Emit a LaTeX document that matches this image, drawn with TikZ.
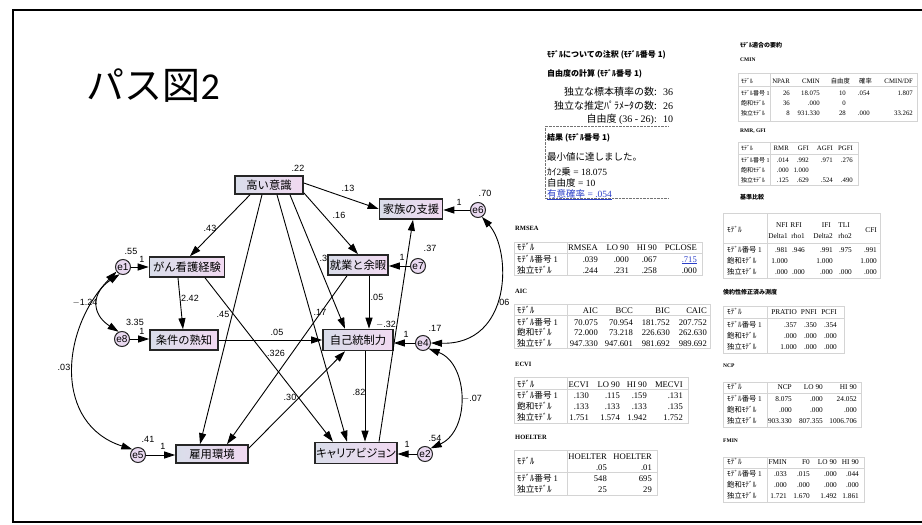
\documentclass[tikz,border=0pt]{standalone}
\usepackage{fontspec}
\setmainfont{Liberation Serif}
\newfontfamily\jp{Noto Sans CJK JP}
\newfontfamily\jpp[RawFeature=+palt]{Noto Sans CJK JP}
\newfontfamily\arl{Liberation Sans}
\newfontfamily\carl{Carlito}
\usetikzlibrary{arrows.meta,calc}
\newcommand\fsz[1]{\fontsize{#1}{#1}\selectfont}
\definecolor{boxl}{HTML}{D9DDEA}
\definecolor{boxr}{HTML}{F1D9F1}
\definecolor{errf}{HTML}{E9D9F0}
\definecolor{lnk}{HTML}{2B3FC8}
\definecolor{tbline}{HTML}{D4D4D4}
\newcommand\trow[4]{\foreach \cx/\ct [count=\ci] in {#4}{\node[tn=#3] (#1-\ci) at (\cx,#2) {\ct};}}
\begin{document}
\begin{tikzpicture}[x=1pt,y=-1pt,
  box/.style={draw=black!85,line width=1.6pt,left color=boxl,right color=boxr,inner sep=1pt,font=\jp\fsz{11.3}},
  err/.style={circle,draw=black!85,line width=1pt,fill=errf,minimum size=15pt,inner sep=0pt,font=\arl\fsz{10}},
  lb/.style={inner sep=0pt,font=\arl\fsz{9}},
  arr/.style={-{Triangle[length=11pt,width=7pt]},line width=0.9pt},
  cov/.style={{Triangle[length=11pt,width=7pt]}-{Triangle[length=11pt,width=7pt]},line width=0.9pt},
  tn/.style={anchor=base east,inner sep=0pt,font=\fsz{#1}},
  tl/.style={anchor=base west,inner sep=0pt,font=\jp\fsz{#1}},
  th/.style={anchor=base west,inner sep=0pt,font=\bfseries\fsz{#1}},
  tj/.style={anchor=base west,inner sep=0pt,font=\jp\bfseries\fsz{#1}},
  tb/.style={draw=tbline,line width=0.7pt},
]
\useasboundingbox (0,0) rectangle (922,525);
\fill[white] (0,0) rectangle (922,525);
\draw[line width=1.8pt] (930,10) -- (13,10) -- (13,522) -- (930,522);

% title
\node[anchor=west,font=\jp\fsz{38}] (title) at (83,86) {パス図{\carl 2}};

% label partly hidden by a box
\node[lb] (lab0) at (326,258) {.37};

% ---------- path diagram ----------
\node[box,minimum width=68pt,minimum height=18pt] (hi) at (269,185) {高い意識};
\node[box,minimum width=63pt,minimum height=20pt] (fam) at (411,209) {家族の支援};
\node[box,minimum width=60pt,minimum height=20pt] (job) at (358,265) {就業と余暇};
\node[box,minimum width=75pt,minimum height=20pt] (gan) at (187,267) {がん看護経験};
\node[box,minimum width=68pt,minimum height=20pt] (cond) at (184,340) {条件の熟知};
\node[box,minimum width=70pt,minimum height=21pt] (self) at (358,340) {自己統制力};
\node[box,minimum width=72pt,minimum height=18pt] (emp) at (212,454) {雇用環境};
\node[box,minimum width=73pt,minimum height=21pt,font=\jpp\fsz{11.3}] (car) at (356,453) {キャリアビジョン};

\node[err] (e1) at (123,267) {e1};
\node[err] (e8) at (122,339) {e8};
\node[err] (e5) at (138,455) {e5};
\node[err] (e6) at (478,210) {e6};
\node[err] (e7) at (418,266) {e7};
\node[err] (e4) at (423,343) {e4};
\node[err] (e2) at (425,454) {e2};

\draw[arr] ($(hi.south)+(-19,0)$) -- ($(gan.north)+(3,0)$);
\draw[arr] ($(hi.east)+(0,-2)$) -- (fam.west);
\draw[arr] ($(hi.south east)+(0,-2)$) -- (job.north);
\draw[arr] ($(hi.south)+(21,0)$) -- ($(self.north)+(-13,0)$);
\draw[arr] ($(hi.south)+(8,0)$) -- ($(car.north)+(-9,0)$);
\draw[arr] ($(hi.south)+(-7,0)$) -- ($(emp.north)+(-12,0)$);
\draw[arr] ($(job.south)+(11,0)$) -- ($(self.north)+(11,0)$);
\draw[arr] ($(job.south)+(-11,0)$) -- ($(emp.north)+(15,0)$);
\draw[arr] ($(gan.south)+(-9,0)$) -- ($(cond.north)+(-1,0)$);
\draw[arr] ($(gan.south)+(18,0)$) -- ($(car.north)+(-23,0)$);
\draw[arr] (cond.east) -- (self.west);
\draw[arr] ($(emp.north east)+(0,4)$) -- ($(self.south)+(-13,0)$);
\draw[arr] ($(self.south)+(7,0)$) -- ($(car.north)+(9,0)$);
\draw[arr] ($(car.north)+(23,0)$) -- ($(fam.south)+(2,0)$);

\draw[arr] (e1.east) -- (gan.west);
\draw[arr] (e8.east) -- (e8.east -| cond.west);
\draw[arr] (e5.east) -- (e5.east -| emp.west);
\draw[arr] (e6.west) -- (e6.west -| fam.east);
\draw[arr] (e7.west) -- (e7.west -| job.east);
\draw[arr] (e4.west) -- (e4.west -| self.east);
\draw[arr] (e2.west) -- (e2.west -| car.east);

\draw[cov] (e1.245) .. controls ($(e1.245)+(-28,18)$) and ($(e8.115)+(-28,-18)$) .. (e8.115);
\draw[cov] (e1.215) .. controls ($(e1.215)+(-57,59)$) and ($(e5.135)+(-78,-25)$) .. (e5.135);
\draw[cov] (e6.300) .. controls ($(e6.300)+(30,34)$) and ($(e4.east)+(81,2)$) .. (e4.east);
\draw[cov] (e4.315) .. controls ($(e4.315)+(40,15)$) and ($(e2.45)+(40,-18)$) .. (e2.45);

\foreach \lx/\ly/\lt [count=\li] in {298/168/.22, 210/228/.43, 348/188/.13, 339/215/.16,
  377/297/.05, 386/325/{$-$.32}, 435/328/.17, 485/193/.70, 430/248/.37,
  459/202/1, 402/257/1, 406/334/1, 407/444/1, 435/438/.54, 472/399/{$-$.07},
  503/302/.06, 359/392/.82, 290/397/.30, 276/353/.326, 277/332/.05, 320/312/.17,
  223/314/.45, 190/298/2.42, 131/251/.55, 142/259/1, 85/303/{$-$1.24}, 135/322/3.35,
  142/331/1, 64/367/.03, 148/439/.41, 163/446/1}
  {\node[lb] (lab\li) at (\lx,\ly) {\lt};}

% ---------- notes block ----------
\node[tj=8] (n1) at (547,57) {ﾓﾃﾞﾙについての注釈 (ﾓﾃﾞﾙ番号 1)};
\node[tj=8] (n2) at (547,76) {自由度の計算 (ﾓﾃﾞﾙ番号 1)};
\node[anchor=base east,inner sep=0pt,font=\jp\fsz{10}] (n3) at (657,95) {独立な標本積率の数:};
\node[anchor=base west,inner sep=0pt,font=\fsz{10}] (n3v) at (663,95) {36};
\node[anchor=base east,inner sep=0pt,font=\jp\fsz{10}] (n4) at (657,109) {独立な推定ﾊﾟﾗﾒｰﾀの数:};
\node[anchor=base west,inner sep=0pt,font=\fsz{10}] (n4v) at (663,109) {26};
\node[anchor=base east,inner sep=0pt,font=\fsz{10}] (n5) at (657,122) {{\jp 自由度} (36 - 26):};
\node[anchor=base west,inner sep=0pt,font=\fsz{10}] (n5v) at (663,122) {10};
\draw[densely dotted,black!55] (668,126) -- (545,126) -- (545,198) -- (668,198);
\node[tj=8] (n6) at (547,140) {結果 (ﾓﾃﾞﾙ番号 1)};
\node[anchor=base west,inner sep=0pt,font=\jp\fsz{9.5}] (n7) at (547,160) {最小値に達しました。};
\node[anchor=base west,inner sep=0pt,font=\fsz{9.5}] (n8) at (547,175) {{\jp ｶｲ}2{\jp 乗} = 18.075};
\node[anchor=base west,inner sep=0pt,font=\fsz{9.5}] (n9) at (547,186) {{\jp 自由度} = 10};
\node[anchor=base west,inner sep=0pt,font=\fsz{9.5},text=lnk] (n10) at (547,197) {\underline{{\jp 有意確率} = .054}};

% ---------- left-middle tables ----------
\node[th=6.5] (hrm) at (515,230) {RMSEA};
\draw[tb] (514,242) rectangle (702,275) (567,242) -- (567,275) (514,253) -- (702,253);
\node[tl=8.6] (rm0-0) at (517,250) {ﾓﾃﾞﾙ};
\trow{rm0}{250}{8.6}{598/RMSEA,629/LO 90,657/HI 90,697/PCLOSE}
\node[tl=8.6] (rm1-0) at (517,262) {ﾓﾃﾞﾙ番号 {\rmfamily 1}};
\trow{rm1}{262}{8.6}{598/.039,629/.000,657/.067}
\node[tn=8.6,text=lnk] (rm1-4) at (697,262) {\underline{.715}};
\node[tl=8.6] (rm2-0) at (517,273) {独立ﾓﾃﾞﾙ};
\trow{rm2}{273}{8.6}{598/.244,629/.231,657/.258,697/.000}

\node[th=6.5] (haic) at (515,293) {AIC};
\draw[tb] (514,304) rectangle (710,348) (567,304) -- (567,348) (514,315) -- (710,315);
\node[tl=8.6] (ai0-0) at (517,313) {ﾓﾃﾞﾙ};
\trow{ai0}{313}{8.6}{598/AIC,633/BCC,670/BIC,707/CAIC}
\node[tl=8.6] (ai1-0) at (517,325) {ﾓﾃﾞﾙ番号 {\rmfamily 1}};
\trow{ai1}{325}{8.6}{598/70.075,633/70.954,670/181.752,707/207.752}
\node[tl=8.6] (ai2-0) at (517,335) {飽和ﾓﾃﾞﾙ};
\trow{ai2}{335}{8.6}{598/72.000,633/73.218,670/226.630,707/262.630}
\node[tl=8.6] (ai3-0) at (517,346) {独立ﾓﾃﾞﾙ};
\trow{ai3}{346}{8.6}{598/947.330,633/947.601,670/981.692,707/989.692}

\node[th=6.5] (hec) at (515,366) {ECVI};
\draw[tb] (514,377) rectangle (688,423) (567,377) -- (567,423) (514,389) -- (688,389);
\node[tl=8.6] (ec0-0) at (517,387) {ﾓﾃﾞﾙ};
\trow{ec0}{387}{8.6}{589/ECVI,620/LO 90,647/HI 90,683/MECVI}
\node[tl=8.6] (ec1-0) at (517,398) {ﾓﾃﾞﾙ番号 {\rmfamily 1}};
\trow{ec1}{398}{8.6}{589/.130,620/.115,647/.159,683/.131}
\node[tl=8.6] (ec2-0) at (517,409) {飽和ﾓﾃﾞﾙ};
\trow{ec2}{409}{8.6}{589/.133,620/.133,647/.133,683/.135}
\node[tl=8.6] (ec3-0) at (517,420) {独立ﾓﾃﾞﾙ};
\trow{ec3}{420}{8.6}{589/1.751,620/1.574,647/1.942,683/1.752}

\node[th=6.5] (hho) at (515,439) {HOELTER};
\draw[tb] (514,450) rectangle (657,495) (567,450) -- (567,495) (514,472) -- (657,472);
\node[tl=8.6] (ho0-0) at (517,464) {ﾓﾃﾞﾙ};
\trow{ho0}{459}{8.6}{607/HOELTER,652/HOELTER}
\trow{ho0b}{470}{8.6}{607/.05,652/.01}
\node[tl=8.6] (ho1-0) at (517,481) {ﾓﾃﾞﾙ番号 {\rmfamily 1}};
\trow{ho1}{481}{8.6}{607/548,652/695}
\node[tl=8.6] (ho2-0) at (517,492) {独立ﾓﾃﾞﾙ};
\trow{ho2}{492}{8.6}{607/25,652/29}

% ---------- upper-right tables ----------
\node[tj=6] (hsum) at (740,47) {ﾓﾃﾞﾙ適合の要約};
\node[th=5.5] (hcm) at (740,61) {CMIN};
\draw[tb] (738,73) rectangle (917,121) (770,73) -- (770,121) (738,86) -- (917,86);
\node[tl=6] (cm0-0) at (741,83) {ﾓﾃﾞﾙ};
\trow{cm0}{83}{6.8}{790/NPAR,820/CMIN,850/{\jp\fsz{6.3}自由度},872/{\jp\fsz{6.3}確率},913/{CMIN/DF}}
\node[tl=6] (cm1-0) at (741,95) {ﾓﾃﾞﾙ番号 {\rmfamily 1}};
\trow{cm1}{95}{6.8}{790/26,820/18.075,846/10,870/.054,913/1.807}
\node[tl=6] (cm2-0) at (741,105) {飽和ﾓﾃﾞﾙ};
\trow{cm2}{105}{6.8}{790/36,820/.000,846/0}
\node[tl=6] (cm3-0) at (741,115) {独立ﾓﾃﾞﾙ};
\trow{cm3}{115}{6.8}{790/8,820/931.330,846/28,870/.000,913/33.262}

\node[th=5.5] (hrg) at (740,132) {RMR, GFI};
\draw[tb] (738,142) rectangle (858,185) (770,142) -- (770,185) (738,154) -- (858,154);
\node[tl=6] (rg0-0) at (741,150) {ﾓﾃﾞﾙ};
\trow{rg0}{150}{6.8}{789/RMR,809/GFI,833/AGFI,853/PGFI}
\node[tl=6] (rg1-0) at (741,162) {ﾓﾃﾞﾙ番号 {\rmfamily 1}};
\trow{rg1}{162}{6.8}{789/.014,809/.992,833/.971,853/.276}
\node[tl=6] (rg2-0) at (741,172) {飽和ﾓﾃﾞﾙ};
\trow{rg2}{172}{6.8}{789/.000,809/1.000}
\node[tl=6] (rg3-0) at (741,182) {独立ﾓﾃﾞﾙ};
\trow{rg3}{182}{6.8}{789/.125,809/.629,833/.524,853/.490}

\node[tj=6] (hbc) at (740,199) {基準比較};

% ---------- lower-right tables ----------
\draw[tb] (723,213) rectangle (880,278) (767,213) -- (767,278) (723,243) -- (880,243);
\node[tl=7.3] (bc0-0) at (727,232.5) {ﾓﾃﾞﾙ};
\trow{bc0}{227.5}{7.3}{788/NFI,802/RFI,831/IFI,850/TLI}
\trow{bc0b}{238.5}{7.3}{788/Delta1,805/rho1,833/Delta2,852/rho2}
\node[tn=7.3] (bc0-c) at (877,232.5) {CFI};
\node[tl=7.3] (bc1-0) at (727,252.5) {ﾓﾃﾞﾙ番号 {\rmfamily 1}};
\trow{bc1}{252.5}{7.3}{788/.981,805/.946,833/.991,852/.975,877/.991}
\node[tl=7.3] (bc2-0) at (727,263.5) {飽和ﾓﾃﾞﾙ};
\trow{bc2}{263.5}{7.3}{788/1.000,833/1.000,877/1.000}
\node[tl=7.3] (bc3-0) at (727,274.5) {独立ﾓﾃﾞﾙ};
\trow{bc3}{274.5}{7.3}{788/.000,805/.000,833/.000,852/.000,877/.000}

\node[tj=6] (hpr) at (723,294) {倹約性修正済み測度};
\draw[tb] (723,306) rectangle (844,353) (767,306) -- (767,353) (723,318) -- (844,318);
\node[tl=7.3] (pr0-0) at (727,314.5) {ﾓﾃﾞﾙ};
\trow{pr0}{314.5}{7.3}{797/PRATIO,817/PNFI,837/PCFI}
\node[tl=7.3] (pr1-0) at (727,327.5) {ﾓﾃﾞﾙ番号 {\rmfamily 1}};
\trow{pr1}{327.5}{7.3}{797/.357,817/.350,837/.354}
\node[tl=7.3] (pr2-0) at (727,338.5) {飽和ﾓﾃﾞﾙ};
\trow{pr2}{338.5}{7.3}{797/.000,817/.000,837/.000}
\node[tl=7.3] (pr3-0) at (727,349.5) {独立ﾓﾃﾞﾙ};
\trow{pr3}{349.5}{7.3}{797/1.000,817/.000,837/.000}

\node[th=5.5] (hnc) at (723,367) {NCP};
\draw[tb] (723,382) rectangle (861,427) (767,382) -- (767,427) (723,393) -- (861,393);
\node[tl=7.3] (nc0-0) at (727,389.5) {ﾓﾃﾞﾙ};
\trow{nc0}{389.5}{7.3}{792/NCP,823/LO 90,857/HI 90}
\node[tl=7.3] (nc1-0) at (727,401.5) {ﾓﾃﾞﾙ番号 {\rmfamily 1}};
\trow{nc1}{401.5}{7.3}{792/8.075,823/.000,857/24.052}
\node[tl=7.3] (nc2-0) at (727,412.5) {飽和ﾓﾃﾞﾙ};
\trow{nc2}{412.5}{7.3}{792/.000,823/.000,857/.000}
\node[tl=7.3] (nc3-0) at (727,423.5) {独立ﾓﾃﾞﾙ};
\trow{nc3}{423.5}{7.3}{792/903.330,823/807.355,857/1006.706}

\node[th=5.5] (hfm) at (723,442) {FMIN};
\draw[tb] (723,457) rectangle (864,502) (767,457) -- (767,502) (723,468) -- (864,468);
\node[tl=7.3] (fm0-0) at (727,464.5) {ﾓﾃﾞﾙ};
\trow{fm0}{464.5}{7.3}{787/FMIN,810/F0,837/LO 90,859/HI 90}
\node[tl=7.3] (fm1-0) at (727,476.5) {ﾓﾃﾞﾙ番号 {\rmfamily 1}};
\trow{fm1}{476.5}{7.3}{787/.033,810/.015,837/.000,859/.044}
\node[tl=7.3] (fm2-0) at (727,487.5) {飽和ﾓﾃﾞﾙ};
\trow{fm2}{487.5}{7.3}{787/.000,810/.000,837/.000,859/.000}
\node[tl=7.3] (fm3-0) at (727,498.5) {独立ﾓﾃﾞﾙ};
\trow{fm3}{498.5}{7.3}{787/1.721,810/1.670,837/1.492,859/1.861}
\end{tikzpicture}
\end{document}
